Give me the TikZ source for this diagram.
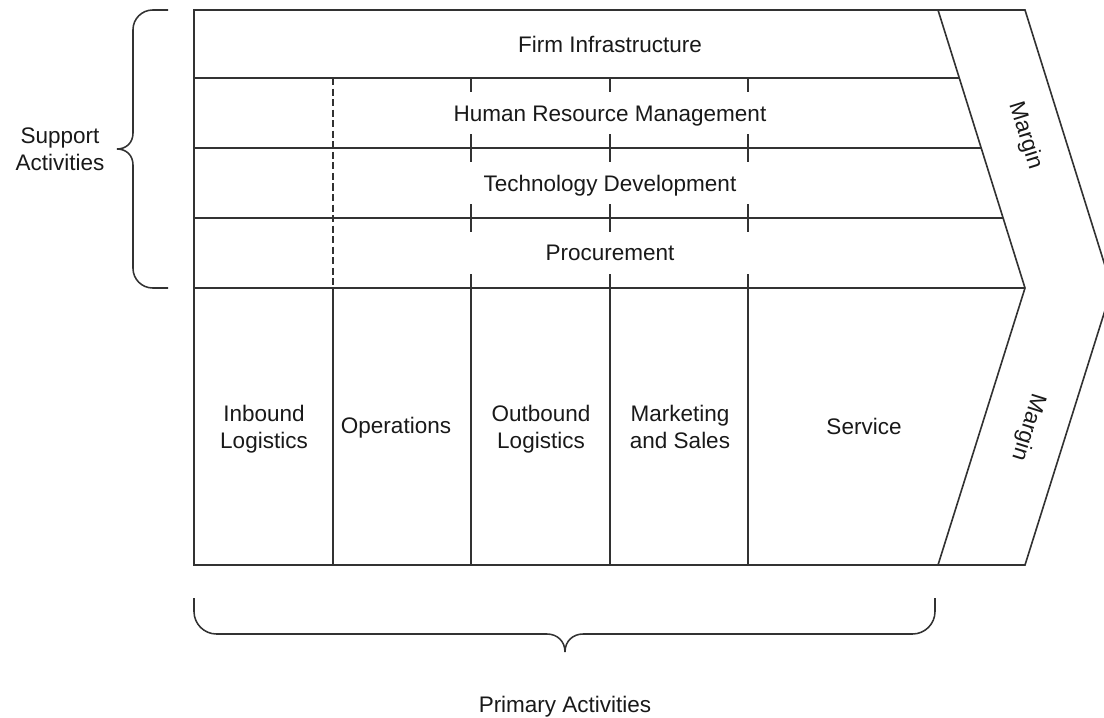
\documentclass[tikz,border=0pt]{standalone}
\usepackage{fontspec}
\setmainfont{Liberation Sans}
\usepackage{tikz}
\usetikzlibrary{positioning}
\definecolor{VCLine}{RGB}{50,50,50}
\definecolor{VCText}{RGB}{25,25,25}

\begin{document}
\begin{tikzpicture}[x=0.025cm, y=-0.025cm,
          lbl/.style={font=\fontsize{16}{19}\selectfont, text=VCText, align=center},
          edge/.style={draw=VCLine, line width=1.15pt, line join=miter},
          split/.style={draw=VCLine, line width=1pt},
          curly/.style={draw=VCLine, line width=1.1pt}
        ]
        \useasboundingbox (0,0) rectangle (1104,717);

        % Outer chevron and the margin band
        \draw[edge] (194,10) -- (1025,10) -- (1112,288) -- (1025,565)
              -- (194,565) -- cycle;
        \draw[edge] (938,10) -- (1025,288) -- (938,565);

        % Support rows
        \draw[edge] (194,78)  -- (959,78);
        \draw[edge] (194,148) -- (981,148);
        \draw[edge] (194,218) -- (1003,218);
        \draw[edge] (194,288) -- (1025,288);

        % Primary columns
        \foreach \x in {333,471,610,748}
          \draw[edge] (\x,288) -- (\x,565);

        % Column marks running through the support rows
        \draw[split, dash pattern=on 5pt off 2.5pt] (333,78) -- (333,288);
        \foreach \x in {471,610,748}
          \foreach \y in {78,148,218} {
            \draw[split] (\x,\y) -- (\x,\y+14);
            \draw[split] (\x,\y+56) -- (\x,\y+70);
          }

        % Support activity labels
        \node[lbl] (firm) at (610,44)  {Firm Infrastructure};
        \node[lbl] (hrm)  at (610,116) {Human Resource Management};
        \node[lbl] (tech) at (610,186) {Technology Development};
        \node[lbl] (proc) at (610,253) {Procurement};

        % Primary activity labels
        \node[lbl] (inb)  at (264,429) {Inbound\\Logistics};
        \node[lbl] (ops)  at (396,428) {Operations};
        \node[lbl] (outb) at (541,429) {Outbound\\Logistics};
        \node[lbl] (mkt)  at (680,427) {Marketing\\and Sales};
        \node[lbl] (svc)  at (864,426) {Service};

        % Margin labels
        \node[lbl, rotate=-72.6]  (mtop) at (1025,136) {Margin};
        \node[lbl, rotate=-107.4] (mbot) at (1028,427) {Margin};

        % Support brace
        \draw[curly, rounded corners=14] (133,133) -- (133,10) -- (168,10);
        \draw[curly] (133,133) .. controls (133,143) and (126,149) .. (117,149)
              .. controls (126,149) and (133,155) .. (133,165);
        \draw[curly, rounded corners=14] (133,165) -- (133,288) -- (168,288);
        \node[lbl] (supp) at (60,149) {Support\\Activities};

        % Primary brace
        \draw[curly, rounded corners=16] (547,634) -- (194,634) -- (194,598);
        \draw[curly] (547,634) .. controls (557,634) and (565,641) .. (565,652)
              .. controls (565,641) and (573,634) .. (583,634);
        \draw[curly, rounded corners=16] (583,634) -- (935,634) -- (935,598);
        \node[lbl] (prim) at (565,707) {Primary Activities};
      \end{tikzpicture}
\end{document}
